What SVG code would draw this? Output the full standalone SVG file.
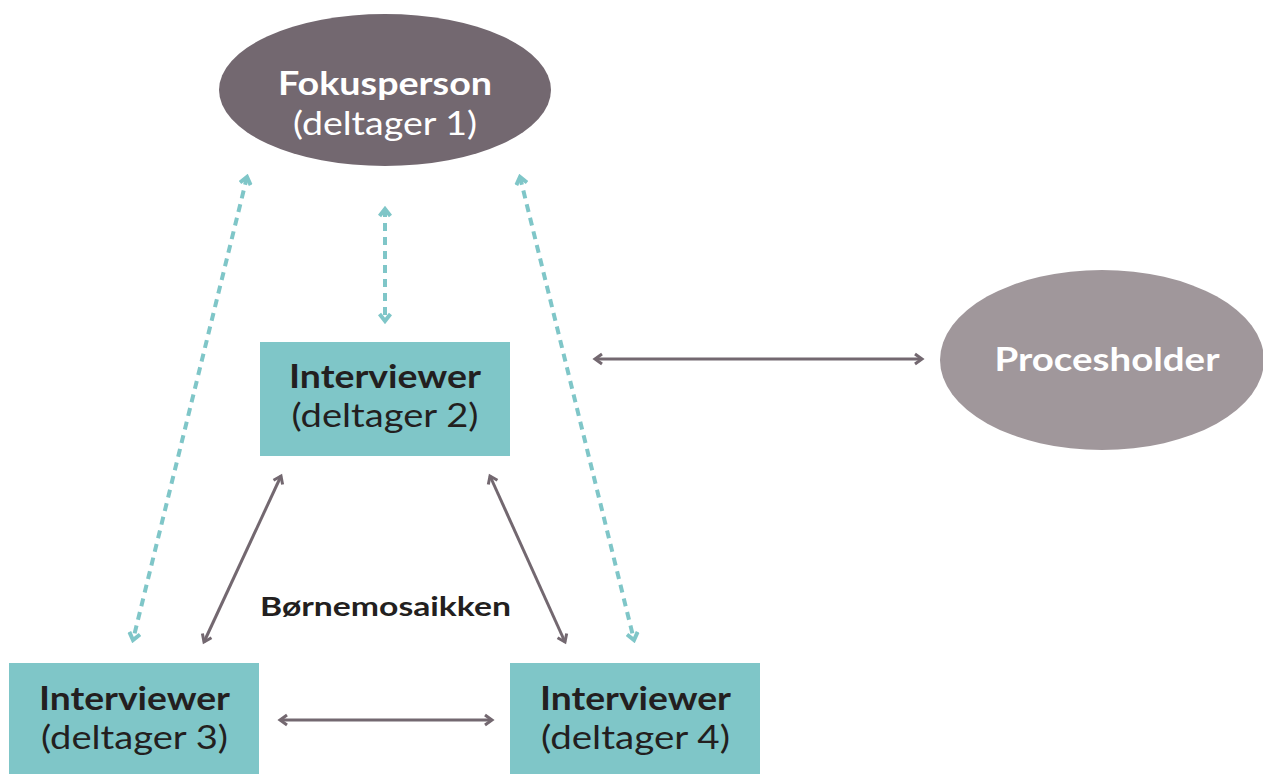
<svg xmlns="http://www.w3.org/2000/svg" width="1263" height="774" viewBox="0 0 1263 774">
<defs>
<style>
.t{font-family:Lato,"Open Sans","Liberation Sans",sans-serif;text-anchor:middle}
.b{font-weight:700}
.w{fill:#ffffff}
.d{fill:#231f20}
.box{fill:#7fc6c8}
.sol{stroke:#736870;stroke-width:3;fill:none;marker-start:url(#ms);marker-end:url(#ms)}
.dash{stroke:#7fc6c8;stroke-width:4;fill:none;stroke-dasharray:8 6;marker-start:url(#md);marker-end:url(#md)}
</style>
<marker id="ms" viewBox="0 0 14 14" markerWidth="14" markerHeight="14" refX="11" refY="7" orient="auto-start-reverse" markerUnits="userSpaceOnUse">
<path d="M4,2 L11,7 L4,12" fill="none" stroke="#736870" stroke-width="3"/>
</marker>
<marker id="md" viewBox="0 0 14 14" markerWidth="14" markerHeight="14" refX="11" refY="7" orient="auto-start-reverse" markerUnits="userSpaceOnUse">
<path d="M4,1.5 L11,7 L4,12.5" fill="none" stroke="#7fc6c8" stroke-width="4"/>
</marker>
</defs>
<rect width="1263" height="774" fill="#ffffff"/>
<g id="connectors">
<line class="dash" x1="247" y1="177" x2="133" y2="640"/>
<line class="dash" x1="385" y1="209" x2="385" y2="321"/>
<line class="dash" x1="520" y1="177" x2="634" y2="640"/>
<line class="sol" x1="595" y1="359" x2="922" y2="359"/>
<line class="sol" x1="281" y1="476" x2="204" y2="642"/>
<line class="sol" x1="490" y1="476" x2="565" y2="642"/>
<line class="sol" x1="280" y1="720" x2="492" y2="720"/>
</g>
<g id="fokusperson">
<ellipse cx="385" cy="90" rx="166" ry="76" fill="#736870"/>
<text class="t b w" x="385" y="95" font-size="33" textLength="214" lengthAdjust="spacingAndGlyphs">Fokusperson</text>
<text class="t w" x="385" y="135" font-size="32" textLength="184" lengthAdjust="spacingAndGlyphs">(deltager 1)</text>
</g>
<g id="procesholder">
<ellipse cx="1102" cy="360" rx="162" ry="90" fill="#a0979b"/>
<text class="t b w" x="1107" y="371" font-size="33" textLength="225" lengthAdjust="spacingAndGlyphs">Procesholder</text>
</g>
<g id="interviewer2">
<rect class="box" x="260" y="342" width="250" height="114"/>
<text class="t b d" x="385" y="388" font-size="32" textLength="192" lengthAdjust="spacingAndGlyphs">Interviewer</text>
<text class="t d" x="385" y="427" font-size="32" textLength="187" lengthAdjust="spacingAndGlyphs">(deltager 2)</text>
</g>
<g id="interviewer3">
<rect class="box" x="9" y="663" width="250" height="111"/>
<text class="t b d" x="134.5" y="710" font-size="32" textLength="191" lengthAdjust="spacingAndGlyphs">Interviewer</text>
<text class="t d" x="134.5" y="749" font-size="32" textLength="187" lengthAdjust="spacingAndGlyphs">(deltager 3)</text>
</g>
<g id="interviewer4">
<rect class="box" x="510" y="663" width="250" height="111"/>
<text class="t b d" x="635.5" y="710" font-size="32" textLength="191" lengthAdjust="spacingAndGlyphs">Interviewer</text>
<text class="t d" x="635.5" y="749" font-size="32" textLength="189" lengthAdjust="spacingAndGlyphs">(deltager 4)</text>
</g>
<g id="label">
<text class="t b d" x="385.5" y="616" font-size="26" textLength="251" lengthAdjust="spacingAndGlyphs">Børnemosaikken</text>
</g>
</svg>
